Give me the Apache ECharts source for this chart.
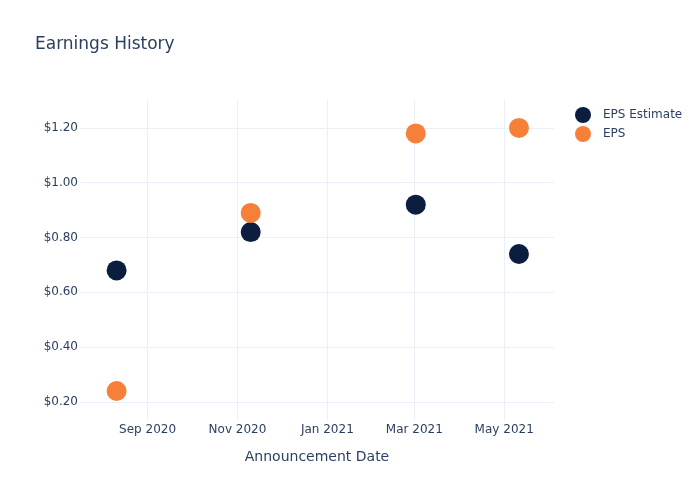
<!DOCTYPE html>
<html>
<head>
<meta charset="utf-8">
<script src="https://cdn.jsdelivr.net/npm/echarts@6/dist/echarts.min.js"></script>
<style>html,body{margin:0;padding:0;background:#fff}#c{width:700px;height:500px}</style>
</head>
<body>
<div id="c"></div>
<script>
var dates = ['2020-08-11', '2020-11-10', '2021-03-02', '2021-05-11'];
var epsEstimate = [0.68, 0.82, 0.92, 0.74];
var eps = [0.24, 0.89, 1.18, 1.20];
var xTicks = ['2020-09-01', '2020-11-01', '2021-01-01', '2021-03-01', '2021-05-01'];
var yTicks = [0.2, 0.4, 0.6, 0.8, 1.0, 1.2];
var xRange = ['2020-07-17T04:00:00Z', '2021-06-03T19:00:00Z'];
var yRange = [0.134, 1.302];

function ts(s) { return s.length > 10 ? Date.parse(s) : Date.parse(s + 'T00:00:00Z'); }
var months = ['Jan','Feb','Mar','Apr','May','Jun','Jul','Aug','Sep','Oct','Nov','Dec'];
var font = 'DejaVu Sans';
var txt = '#2a3f5f';
var grid = '#ebf0f8';

var chart = echarts.init(document.getElementById('c'), null, {renderer: 'canvas'});
chart.setOption({
  useUTC: true,
  animation: false,
  backgroundColor: '#fff',
  title: {
    text: 'Earnings History', left: 35, top: 36, padding: 0,
    textStyle: {fontFamily: font, fontSize: 17, fontWeight: 'normal', color: txt}
  },
  legend: {
    orient: 'vertical', left: 575, top: 107, itemGap: 3, padding: 0,
    icon: 'circle', itemWidth: 16, itemHeight: 16,
    textStyle: {fontFamily: font, fontSize: 12, color: txt, padding: [0, 0, 0, 7]},
    data: ['EPS Estimate', 'EPS']
  },
  grid: {left: 80, right: 146, top: 100, bottom: 80, containLabel: false},
  xAxis: {
    type: 'time',
    min: ts(xRange[0]), max: ts(xRange[1]),
    splitNumber: 5,
    name: 'Announcement Date', nameLocation: 'middle', nameGap: 30,
    nameTextStyle: {fontFamily: font, fontSize: 14, color: txt},
    axisLine: {show: false},
    axisTick: {show: false},
    axisLabel: {
      margin: 4, hideOverlap: false, showMinLabel: false, showMaxLabel: false,
      fontFamily: font, fontSize: 12, color: txt,
      formatter: function (v) {
        var d = new Date(v);
        var key = d.toISOString().slice(0, 10);
        if (xTicks.indexOf(key) < 0) return '';
        return months[d.getUTCMonth()] + ' ' + d.getUTCFullYear();
      }
    },
    splitLine: {show: true, showMinLine: false, showMaxLine: false, lineStyle: {color: grid, width: 1}}
  },
  yAxis: {
    type: 'value',
    min: yRange[0], max: yRange[1],
    axisLine: {show: false},
    axisTick: {show: false, customValues: yTicks},
    axisLabel: {
      customValues: yTicks, margin: 2,
      fontFamily: font, fontSize: 12, color: txt,
      formatter: function (v) { return '$' + v.toFixed(2); }
    },
    splitLine: {show: true, lineStyle: {color: grid, width: 1}}
  },
  series: [
    {
      name: 'EPS Estimate', type: 'scatter', symbolSize: 20,
      itemStyle: {color: '#0b1e3f', opacity: 1},
      data: dates.map(function (d, i) { return [ts(d), epsEstimate[i]]; })
    },
    {
      name: 'EPS', type: 'scatter', symbolSize: 20,
      itemStyle: {color: '#f6803a', opacity: 1},
      data: dates.map(function (d, i) { return [ts(d), eps[i]]; })
    }
  ]
});
</script>
</body>
</html>
